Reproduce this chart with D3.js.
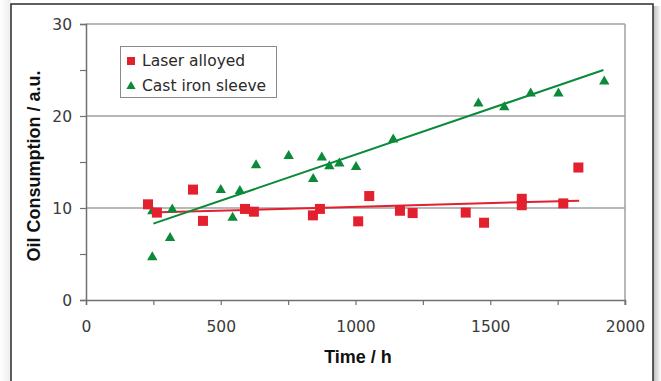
<!DOCTYPE html>
<html>
<head>
<meta charset="utf-8">
<style>
  body { margin: 0; background: #fff; }
  svg { display: block; }
  .tick text { font-family: "DejaVu Sans", sans-serif; font-size: 15.5px; fill: #3a3a3a; }
</style>
</head>
<body>
<svg width="661" height="381"></svg>
<script src="https://d3js.org/d3.v7.min.js"></script>
<script>

  // laser alloyed liner
  var laserTime = [230, 263, 397, 434, 590, 623, 842, 868, 1010, 1051, 1165, 1212, 1409, 1477, 1617, 1617, 1771, 1827],
      laserOil  = [10.4, 9.5, 12.0, 8.6, 9.9, 9.6, 9.2, 9.9, 8.55, 11.3, 9.7, 9.45, 9.5, 8.4, 11.0, 10.3, 10.5, 14.4];

  // cast iron sleeve
  var castTime = [246, 246, 312, 320, 500, 544, 571, 631, 752, 843, 875, 903, 940, 1002, 1140, 1456, 1552, 1650, 1753, 1923],
      castOil  = [4.8, 9.8, 6.9, 10.0, 12.1, 9.1, 12.0, 14.8, 15.8, 13.3, 15.65, 14.7, 15.0, 14.6, 17.6, 21.5, 21.1, 22.6, 22.6, 23.9];

  // trend lines (end points)
  var laserTrendTime = [237, 1830], laserTrendOil = [9.5, 10.8],
      castTrendTime  = [250, 1920], castTrendOil  = [8.3, 25.0];

  var xTicks = [0, 250, 500, 750, 1000, 1250, 1500, 1750, 2000],
      xLabels = [0, 500, 1000, 1500, 2000],
      yTicks = [0, 5, 10, 15, 20, 25, 30],
      yLabels = [0, 10, 20, 30],
      gridValues = [10, 20, 30];

  var seriesNames = ["Laser alloyed", "Cast iron sleeve"];

  var red = "#e3202e", green = "#0b8a3a";

  var svg = d3.select("svg");

  var x = d3.scaleLinear().domain([0, 2000]).range([86, 625]),
      y = d3.scaleLinear().domain([0, 30]).range([300, 24]);

  // outer frame with soft shadow on the right
  var defs = svg.append("defs");
  var sh = defs.append("linearGradient").attr("id", "shadowR");
  sh.append("stop").attr("offset", "0").attr("stop-color", "#b8b8b8");
  sh.append("stop").attr("offset", "1").attr("stop-color", "#ffffff");
  var shL = defs.append("linearGradient").attr("id", "shadowL");
  shL.append("stop").attr("offset", "0").attr("stop-color", "#ffffff");
  shL.append("stop").attr("offset", "1").attr("stop-color", "#ececec");

  svg.append("rect").attr("x", 0).attr("y", 0).attr("width", 11).attr("height", 381).attr("fill", "url(#shadowL)");
  svg.append("rect").attr("x", 653).attr("y", 6).attr("width", 8).attr("height", 375).attr("fill", "url(#shadowR)");
  svg.append("rect").attr("x", 11).attr("y", 4).attr("width", 642).attr("height", 400)
      .attr("fill", "#fff").attr("stroke", "#2b2b2b").attr("stroke-width", 1.5);

  // gridlines
  svg.append("g").selectAll("line").data(gridValues).enter().append("line")
      .attr("x1", x(0)).attr("x2", x(2000))
      .attr("y1", function(d) { return y(d); }).attr("y2", function(d) { return y(d); })
      .attr("stroke", "#a0a0a0").attr("stroke-width", 1.5);

  // right border of plot area
  svg.append("line").attr("x1", x(2000)).attr("x2", x(2000)).attr("y1", y(30)).attr("y2", y(0) + 5)
      .attr("stroke", "#a0a0a0").attr("stroke-width", 1.5);

  // axes
  var xAxis = d3.axisBottom(x).tickValues(xTicks).tickSize(5).tickPadding(16)
      .tickFormat(function(d) { return xLabels.indexOf(d) >= 0 ? d : ""; });
  var gx = svg.append("g").attr("transform", "translate(0," + y(0) + ")").call(xAxis);

  var yAxis = d3.axisLeft(y).tickValues(yTicks).tickSize(6).tickPadding(8)
      .tickFormat(function(d) { return yLabels.indexOf(d) >= 0 ? d : ""; });
  var gy = svg.append("g").attr("transform", "translate(" + x(0) + ",0)").call(yAxis);

  [gx, gy].forEach(function(g) {
    g.select(".domain").attr("stroke", "#707070").attr("stroke-width", 1.5);
    g.selectAll(".tick line").attr("stroke", "#707070").attr("stroke-width", 1.2);
  });
  gy.selectAll(".tick text").attr("dy", "0.36em");

  // axis titles
  svg.append("text").attr("x", 358).attr("y", 363).attr("text-anchor", "middle")
      .style("font-family", "'Liberation Sans', Arial, sans-serif").style("font-weight", "bold").style("font-size", "18px")
      .attr("fill", "#111").text("Time / h");
  svg.append("text").attr("transform", "translate(40,166) rotate(-90)").attr("text-anchor", "middle")
      .style("font-family", "'Liberation Sans', Arial, sans-serif").style("font-weight", "bold").style("font-size", "18px")
      .attr("fill", "#111").text("Oil Consumption / a.u.");

  // trend lines
  var line = d3.line().x(function(d) { return x(d[0]); }).y(function(d) { return y(d[1]); });
  svg.append("path").datum(d3.zip(laserTrendTime, laserTrendOil)).attr("d", line)
      .attr("fill", "none").attr("stroke", red).attr("stroke-width", 2);
  svg.append("path").datum(d3.zip(castTrendTime, castTrendOil)).attr("d", line)
      .attr("fill", "none").attr("stroke", green).attr("stroke-width", 2);

  var tri = "M0,-4.6L5.2,4.4L-5.2,4.4Z";

  // markers
  svg.append("g").selectAll("path").data(d3.zip(castTime, castOil)).enter().append("path")
      .attr("d", tri)
      .attr("transform", function(d) { return "translate(" + x(d[0]) + "," + y(d[1]) + ")"; })
      .attr("fill", green);

  svg.append("g").selectAll("rect").data(d3.zip(laserTime, laserOil)).enter().append("rect")
      .attr("x", function(d) { return x(d[0]) - 5; })
      .attr("y", function(d) { return y(d[1]) - 5; })
      .attr("width", 10).attr("height", 10)
      .attr("fill", red);

  // legend
  var lg = svg.append("g");
  lg.append("rect").attr("x", 120.5).attr("y", 46.5).attr("width", 156).attr("height", 51)
      .attr("fill", "#fff").attr("stroke", "#8a8a8a").attr("stroke-width", 1);
  lg.append("rect").attr("x", 127).attr("y", 57).attr("width", 8).attr("height", 8).attr("fill", red);
  lg.append("path").attr("d", "M0,-4L4.6,4L-4.6,4Z").attr("transform", "translate(131,85)").attr("fill", green);
  lg.selectAll("text").data(seriesNames).enter().append("text")
      .attr("x", 142).attr("y", function(d, i) { return 66 + i * 25; })
      .style("font-family", "'DejaVu Sans', sans-serif").style("font-size", "15.5px")
      .attr("fill", "#2a2a2a").text(function(d) { return d; });

</script>
</body>
</html>
